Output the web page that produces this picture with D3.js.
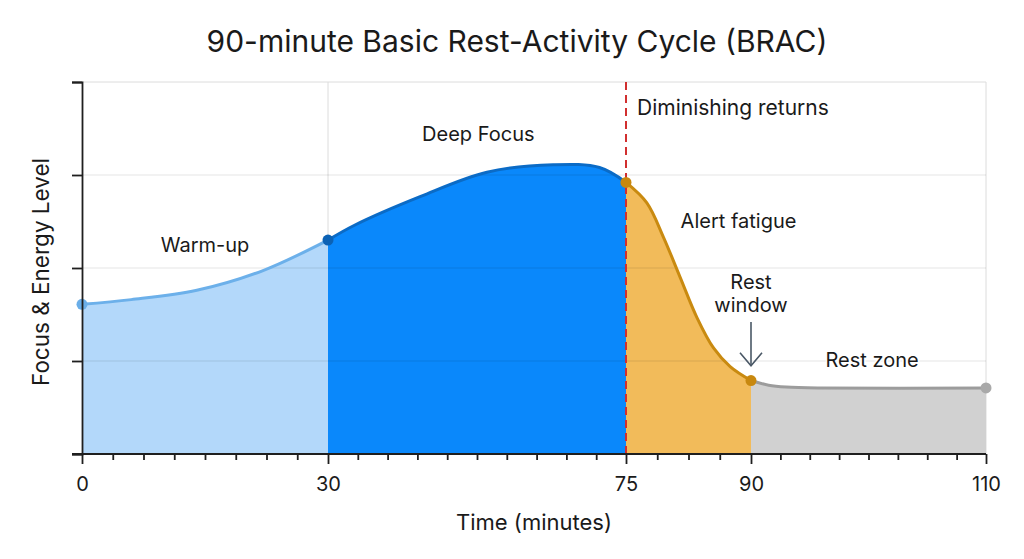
<!DOCTYPE html>
<html>
<head>
<meta charset="utf-8">
<script src="https://cdn.jsdelivr.net/npm/d3@7"></script>
<style>
  body { margin: 0; background: #fff; }
  svg text { font-family: Inter, "Noto Sans", sans-serif; fill: #1a1a1a; }
</style>
</head>
<body>
<svg id="chart" width="1024" height="559"></svg>
<script>
// ---- data ----
var phaseNames = ["Warm-up", "Deep Focus", "Alert fatigue", "Rest zone"];
var majorTicks = [0, 30, 75, 90, 110];
var minorTicks = [3.75, 7.5, 11.25, 15, 18.75, 22.5, 26.25,
                  34.5, 39, 43.5, 48, 52.5, 57, 61.5, 66, 70.5,
                  78.75, 82.5, 86.25,
                  92.5, 95, 97.5, 100, 102.5, 105, 107.5];
var levelTicks = [0, 1, 2, 3, 4];
var gridX = [30, 110];
var markerMinute = 75;

var warmUp = [[0, 1.61], [6, 1.66], [14, 1.76], [22, 1.97], [30, 2.30]];
var deepFocus = [[30, 2.30], [34, 2.46], [44, 2.77], [54, 3.03], [64, 3.11], [71, 3.08], [75, 2.92]];
var alertFatigue = [[75, 2.92], [77.5, 2.70], [79.5, 2.33], [81.5, 1.90], [83.5, 1.47],
                    [85.5, 1.14], [87.5, 0.94], [90, 0.79]];
var restZone = [[90, 0.79], [91.5, 0.74], [93, 0.72], [96, 0.71], [110, 0.71]];

var phases = [warmUp, deepFocus, alertFatigue, restZone];

(function() {
// ---- layout ----
var svg = d3.select("#chart");
var mLeft = 82, mRight = 986, mTop = 82, mBottom = 454;

// piecewise time scale, each phase gets its own stretch of the axis
var x = d3.scaleLinear().domain(majorTicks).range([82, 328, 626, 751, 986]);
var y = d3.scaleLinear().domain([0, 4]).range([mBottom, mTop]);

var fills = ["#b3d8fa", "#0a88fb", "#f2bb5a", "#d1d1d1"];
var strokes = ["#6cb0ea", "#0b6bc6", "#c98a10", "#9c9c9c"];
var dotColors = ["#6aaee8", "#0b62b5", "#c8880f", "#a9a9a9"];

// grid behind
svg.selectAll(".gx").data(gridX).enter().append("line")
  .attr("x1", d => x(d)).attr("x2", d => x(d))
  .attr("y1", mTop).attr("y2", mBottom)
  .attr("stroke", "#dcdcdc").attr("stroke-width", 1);
svg.append("line")
  .attr("x1", mLeft).attr("x2", mRight).attr("y1", y(4)).attr("y2", y(4))
  .attr("stroke", "#dcdcdc");

// areas + lines
var curve = d3.curveCatmullRom.alpha(0.5);
var area = d3.area().x(d => x(d[0])).y0(y(0)).y1(d => y(d[1])).curve(curve);
var line = d3.line().x(d => x(d[0])).y(d => y(d[1])).curve(curve);

phases.forEach(function(p, i) {
  svg.append("path").attr("d", area(p)).attr("fill", fills[i]);
});

// horizontal grid on top of the fills, faint
svg.selectAll(".gy").data(levelTicks.slice(1, 4)).enter().append("line")
  .attr("x1", mLeft).attr("x2", mRight).attr("y1", d => y(d)).attr("y2", d => y(d))
  .attr("stroke", "#000").attr("stroke-opacity", 0.1);

phases.forEach(function(p, i) {
  svg.append("path").attr("d", line(p)).attr("fill", "none")
    .attr("stroke", strokes[i]).attr("stroke-width", 3);
});

// diminishing returns marker
svg.append("line")
  .attr("x1", x(markerMinute)).attr("x2", x(markerMinute))
  .attr("y1", mTop).attr("y2", mBottom)
  .attr("stroke", "#d12f2f").attr("stroke-width", 2)
  .attr("stroke-dasharray", "8,5");

// dots at phase boundaries
var dots = [warmUp[0], deepFocus[0], alertFatigue[0], restZone[0], restZone[restZone.length - 1]];
var dotCol = [dotColors[0], dotColors[1], dotColors[2], dotColors[2], dotColors[3]];
svg.selectAll(".dot").data(dots).enter().append("circle")
  .attr("cx", d => x(d[0])).attr("cy", d => y(d[1])).attr("r", 5.5)
  .attr("fill", (d, i) => dotCol[i]);

// axes
var xAxis = d3.axisBottom(x).tickValues(majorTicks).tickSize(10).tickPadding(12);
var gx = svg.append("g").attr("transform", "translate(0," + mBottom + ")").call(xAxis);
gx.selectAll("text").attr("font-size", 20).attr("dy", "0.75em");
var gMinor = svg.append("g").attr("transform", "translate(0," + mBottom + ")")
  .call(d3.axisBottom(x).tickValues(minorTicks).tickSize(6).tickFormat(""));
gMinor.select(".domain").remove();

svg.append("g").attr("transform", "translate(" + mLeft + ",0)")
  .call(d3.axisLeft(y).tickValues(levelTicks).tickSize(10).tickFormat(""));

svg.selectAll(".domain, .tick line").attr("stroke", "#1f1f1f").attr("stroke-width", 1.8);
gx.select(".domain").attr("d", "M72,0H" + mRight);
svg.selectAll(".tick text").attr("fill", "#1a1a1a").attr("font-family", "Inter, sans-serif");

// titles
svg.append("text").attr("x", 517).attr("y", 52).attr("text-anchor", "middle")
  .attr("font-size", 30).text("90-minute Basic Rest-Activity Cycle (BRAC)");
svg.append("text").attr("x", 534).attr("y", 530).attr("text-anchor", "middle")
  .attr("font-size", 22).text("Time (minutes)");
svg.append("text").attr("transform", "translate(49,272) rotate(-90)")
  .attr("text-anchor", "middle").attr("font-size", 22.5).text("Focus & Energy Level");

// phase labels
var labelPos = [[15, 2.17], [52.7, 3.37], [88.5, 2.43], [100.3, 0.94]];
phaseNames.forEach(function(n, i) {
  svg.append("text").attr("x", x(labelPos[i][0])).attr("y", y(labelPos[i][1]))
    .attr("text-anchor", "middle").attr("font-size", 20)
    .attr("stroke", i === 3 ? "#fff" : "none").attr("stroke-width", 3)
    .attr("paint-order", "stroke").text(n);
});
svg.append("text").attr("x", x(markerMinute) + 11).attr("y", y(3.64))
  .attr("font-size", 21).text("Diminishing returns");

// rest window callout
var rw = svg.append("text").attr("x", x(90)).attr("text-anchor", "middle").attr("font-size", 20);
rw.append("tspan").attr("x", x(90)).attr("y", y(1.77)).text("Rest");
rw.append("tspan").attr("x", x(90)).attr("y", y(1.53)).text("window");
var ay0 = y(1.42), ay1 = y(0.95);
svg.append("line").attr("x1", x(90)).attr("x2", x(90)).attr("y1", ay0).attr("y2", ay1)
  .attr("stroke", "#4a5866").attr("stroke-width", 1.6);
svg.append("path")
  .attr("d", "M" + (x(90) - 11) + "," + (ay1 - 13) + "L" + x(90) + "," + ay1 + "L" + (x(90) + 11) + "," + (ay1 - 13))
  .attr("fill", "none").attr("stroke", "#4a5866").attr("stroke-width", 1.6);
})();
</script>
</body>
</html>
